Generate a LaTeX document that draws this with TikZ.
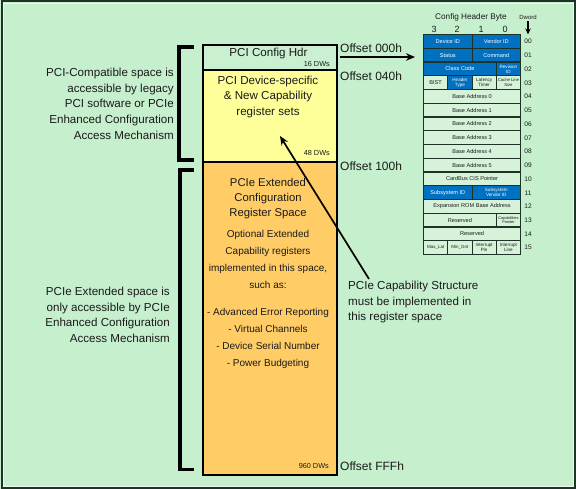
\documentclass[tikz,border=0pt]{standalone}
\usepackage{fontspec}
\setmainfont{Liberation Sans}
\usetikzlibrary{arrows.meta}
\definecolor{bgC}{HTML}{C6EFCE}
\definecolor{hdrC}{HTML}{C9F0D0}
\definecolor{yelC}{HTML}{FFFF99}
\definecolor{orgC}{HTML}{FFCC66}
\definecolor{bluC}{HTML}{0070C0}
\definecolor{cellC}{HTML}{D6F3DA}
\definecolor{frameC}{HTML}{1E3326}
\definecolor{txtC}{HTML}{1A1A1A}
\begin{document}
\begin{tikzpicture}[x=1pt,y=-1pt,
  every node/.style={text=txtC},
  regbox/.style={draw=black, line width=1.8pt, anchor=north west, minimum width=134pt, inner sep=0pt},
  bigtxt/.style={font=\fontsize{11.6}{15.6}\selectfont, inner sep=0pt},
  midtxt/.style={font=\fontsize{10}{17}\selectfont, inner sep=0pt, align=center},
  dwtxt/.style={font=\fontsize{7.3}{8}\selectfont, inner sep=0pt, anchor=east},
  offtxt/.style={font=\fontsize{12}{14}\selectfont, inner sep=0pt, anchor=west},
  brk/.style={line width=3.2pt, black},
  arr/.style={line width=1.7pt, black, -{Stealth[length=9pt,width=7.5pt]}},
  cell/.style={draw=frameC, line width=1.1pt, fill=cellC, anchor=north west, inner sep=0pt,
     minimum height=13.75pt, align=center, font=\fontsize{5.6}{6}\selectfont},
  bl/.style={fill=bluC, text=white},
  tw/.style={font=\fontsize{4.6}{4.9}\selectfont},
  wa/.style={minimum width=24.25pt},
  wb/.style={minimum width=48.5pt},
  wc/.style={minimum width=72.75pt},
  wd/.style={minimum width=97pt},
  rnum/.style={font=\fontsize{6.6}{7}\selectfont, inner sep=0pt},
  hdrtxt/.style={font=\fontsize{8.2}{9}\selectfont, inner sep=0pt}
]
\useasboundingbox (0,0) rectangle (576,489);
\fill[bgC] (0,0) rectangle (576,489);
\draw[frameC, line width=2pt] (1.5,1.5) rectangle (574.5,487.5);
\draw[white!70!bgC, line width=0.6pt] (3.2,3.2) rectangle (572.8,485.8);

% register space boxes
\node[regbox, fill=hdrC, minimum height=25pt] (hdr) at (202,44) {};
\node[regbox, fill=yelC, minimum height=92pt] (yel) at (202,69) {};
\node[regbox, fill=orgC, minimum height=313pt] (org) at (202,161) {};

\node[bigtxt] (hdrt) at (268.5,53.5) {PCI Config Hdr};
\node[dwtxt] (dw16) at (330,63.5) {16 DWs};

\node[bigtxt, align=center, anchor=north] (yelt) at (268,75.5) {PCI Device-specific\\\& New Capability\\register sets};
\node[dwtxt] (dw48) at (330,152.5) {48 DWs};

\node[bigtxt, align=center, anchor=north, font=\fontsize{11.3}{14.6}\selectfont] (orgt) at (268,178.5) {PCIe Extended\\Configuration\\Register Space};
\node[midtxt, anchor=north] (orgo) at (268,230.5) {Optional Extended\\Capability registers\\implemented in this space,\\such as:};
\node[midtxt, anchor=north] (orgl) at (268,308.5) {- Advanced Error Reporting\\- Virtual Channels\\- Device Serial Number\\- Power Budgeting};
\node[dwtxt] (dw960) at (329,465.5) {960 DWs};

% offsets
\node[offtxt] (off0) at (340,48) {Offset 000h};
\node[offtxt] (off1) at (340,76.5) {Offset 040h};
\node[offtxt] (off2) at (340,166.5) {Offset 100h};
\node[offtxt] (off3) at (340,466.5) {Offset FFFh};

% brackets
\draw[brk] (194,47) -- (179,47) -- (179,160) -- (194,160);
\draw[brk] (194,170) -- (180,170) -- (180,469.5) -- (194,469.5);

% left descriptions
\node[bigtxt, align=right, anchor=north east] (lt1) at (174,68) {PCI-Compatible space is\\accessible by legacy\\PCI software or PCIe\\Enhanced Configuration\\Access Mechanism};
\node[bigtxt, align=right, anchor=north east] (lt2) at (170,287) {PCIe Extended space is\\only accessible by PCIe\\Enhanced Configuration\\Access Mechanism};

% capability note
\node[bigtxt, align=left, anchor=north west] (pcap) at (348,281) {PCIe Capability Structure\\must be implemented in\\this register space};
\coordinate (capTail) at (369,279);
\coordinate (capTip) at (280,136);
\draw[arr] (capTail) -- (capTip);

% config header table
\node[hdrtxt] (cfgt) at (471,17) {Config Header Byte};
\node[hdrtxt, font=\fontsize{9}{10}\selectfont] (b3) at (434,29.5) {3};
\node[hdrtxt, font=\fontsize{9}{10}\selectfont] (b2) at (457,29.5) {2};
\node[hdrtxt, font=\fontsize{9}{10}\selectfont] (b1) at (481,29.5) {1};
\node[hdrtxt, font=\fontsize{9}{10}\selectfont] (b0) at (505,29.5) {0};
\node[rnum, font=\fontsize{6}{6.5}\selectfont] (dword) at (528,17.5) {Dword};

\node[cell,bl,wb] (c00a) at (423,34) {Device ID};
\node[cell,bl,wb] (c00b) at (471.5,34) {Vendor ID};
\node[cell,bl,wb] (c01a) at (423,47.75) {Status};
\node[cell,bl,wb] (c01b) at (471.5,47.75) {Command};
\node[cell,bl,wc] (c02a) at (423,61.5) {Class Code};
\node[cell,bl,wa,tw] (c02b) at (495.75,61.5) {Revision\\ID};
\node[cell,wa] (c03a) at (423,75.25) {BIST};
\node[cell,bl,wa,tw] (c03b) at (447.25,75.25) {Header\\Type};
\node[cell,wa,tw] (c03c) at (471.5,75.25) {Latency\\Timer};
\node[cell,wa,tw,font=\fontsize{4.2}{4.6}\selectfont] (c03d) at (495.75,75.25) {Cache Line\\Size};
\node[cell,wd] (c04) at (423,89) {Base Address 0};
\node[cell,wd] (c05) at (423,102.75) {Base Address 1};
\node[cell,wd] (c06) at (423,116.5) {Base Address 2};
\node[cell,wd] (c07) at (423,130.25) {Base Address 3};
\node[cell,wd] (c08) at (423,144) {Base Address 4};
\node[cell,wd] (c09) at (423,157.75) {Base Address 5};
\node[cell,wd] (c10) at (423,171.5) {CardBus CIS Pointer};
\node[cell,bl,wb] (c11a) at (423,185.25) {Subsystem ID};
\node[cell,bl,wb,tw] (c11b) at (471.5,185.25) {Subsystem\\Vendor ID};
\node[cell,wd] (c12) at (423,199) {Expansion ROM Base Address};
\node[cell,wc] (c13a) at (423,212.75) {Reserved};
\node[cell,wa,tw,font=\fontsize{3.9}{4.3}\selectfont] (c13b) at (495.75,212.75) {Capabilities\\Pointer};
\node[cell,wd] (c14) at (423,226.5) {Reserved};
\node[cell,wa,font=\fontsize{4.5}{5}\selectfont] (c15a) at (423,240.25) {Max\_Lat};
\node[cell,wa,font=\fontsize{4.5}{5}\selectfont] (c15b) at (447.25,240.25) {Min\_Gnt};
\node[cell,wa,tw] (c15c) at (471.5,240.25) {Interrupt\\Pin};
\node[cell,wa,tw] (c15d) at (495.75,240.25) {Interrupt\\Line};

\foreach \n [count=\i from 0] in {00,01,02,03,04,05,06,07,08,09,10,11,12,13,14,15}
  \node[rnum] (r\n) at (528,{41.5+13.75*\i}) {\n};

\draw[line width=1.8pt, -{Stealth[length=6pt,width=5.5pt]}] ([yshift=-1pt]dword.south) -- ([yshift=4.5pt]r00.north);

% offset arrow to table
\coordinate (a0) at (340,57);
\draw[arr] (a0) -- ([xshift=-8pt]a0 -| c01a.west);
\end{tikzpicture}
\end{document}
